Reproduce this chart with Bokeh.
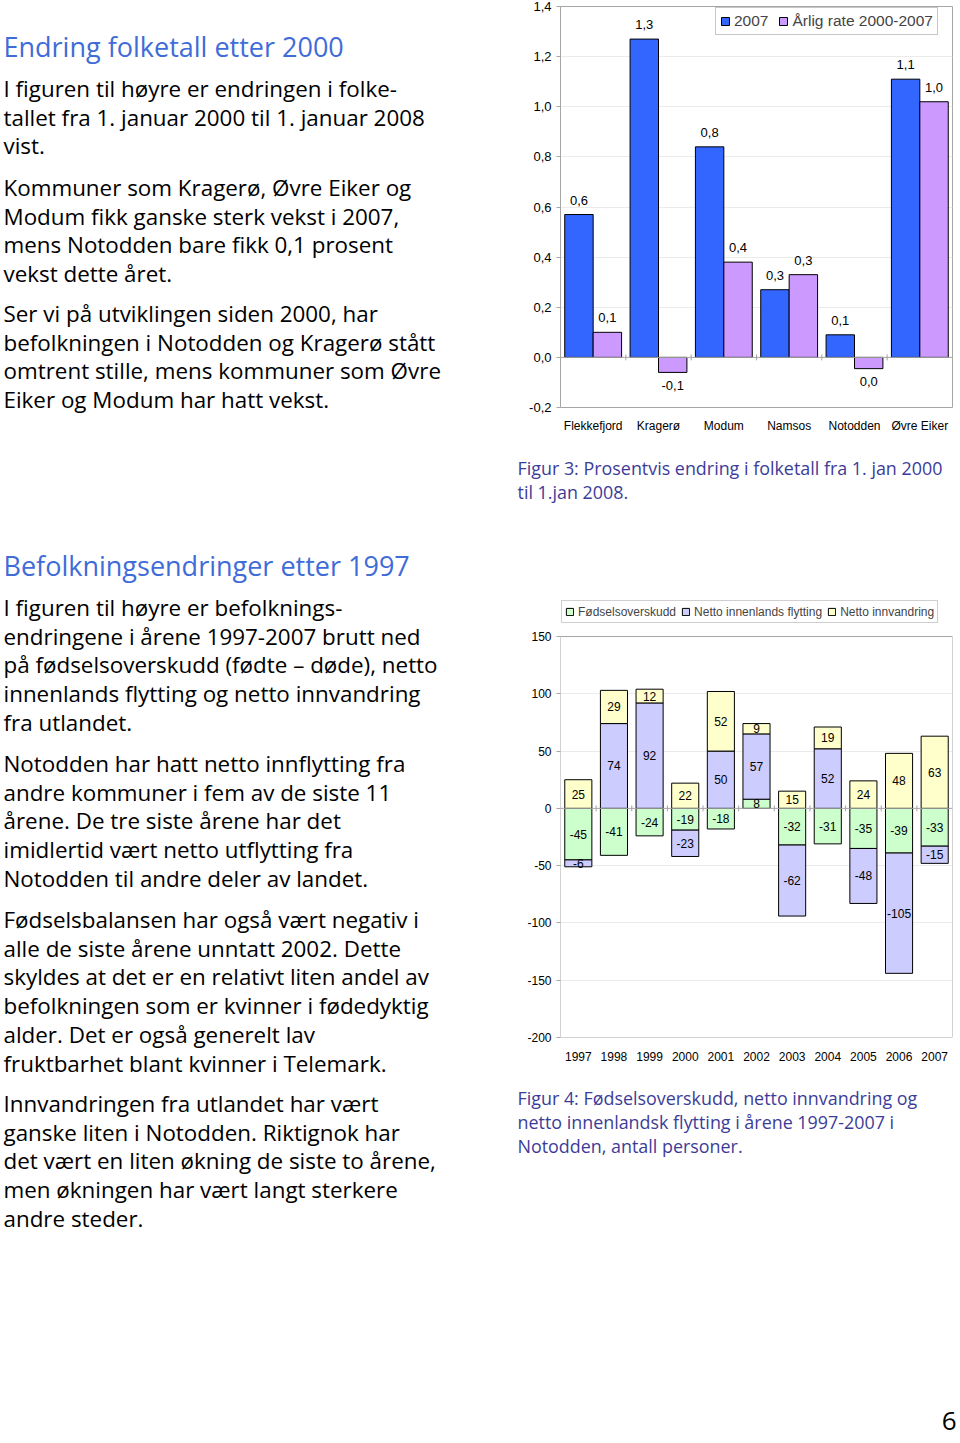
import math
from bokeh.plotting import figure
from bokeh.models import (Range1d, Label, LabelSet, ColumnDataSource, FixedTicker,
                          CustomJSTickFormatter, Legend, LegendItem, Span, Title)
from bokeh.core.properties import value
from bokeh.layouts import row, column
from bokeh.transform import dodge
from bokeh.embed import file_html
from bokeh.resources import INLINE

# ---------------- data: figure 3 ----------------
kommuner = ["Flekkefjord", "Kragerø", "Modum", "Namsos", "Notodden", "Øvre Eiker"]
endring_2007 = [0.57, 1.27, 0.84, 0.27, 0.09, 1.11]
arlig_rate_2000_2007 = [0.10, -0.06, 0.38, 0.33, -0.045, 1.02]
serie_navn_1 = ["2007", "Årlig rate 2000-2007"]
y1_ticks = [-0.2, 0.0, 0.2, 0.4, 0.6, 0.8, 1.0, 1.2, 1.4]

# ---------------- data: figure 4 ----------------
aar = ["1997", "1998", "1999", "2000", "2001", "2002", "2003", "2004", "2005", "2006", "2007"]
fodselsoverskudd = [-45, -41, -24, -19, -18, 8, -32, -31, -35, -39, -33]
innenlands_flytting = [-6, 74, 92, -23, 50, 57, -62, 52, -48, -105, -15]
innvandring = [25, 29, 12, 22, 52, 9, 15, 19, 24, 48, 63]
serie_navn_2 = ["Fødselsoverskudd", "Netto innenlands flytting", "Netto innvandring"]
y2_ticks = [-200, -150, -100, -50, 0, 50, 100, 150]

# ---------------- page text ----------------
overskrift_1 = "Endring folketall etter 2000"
avsnitt_1 = [
    ["I figuren til høyre er endringen i folke-",
     "tallet fra 1. januar 2000 til 1. januar 2008",
     "vist."],
    ["Kommuner som Kragerø, Øvre Eiker og",
     "Modum fikk ganske sterk vekst i 2007,",
     "mens Notodden bare fikk 0,1 prosent",
     "vekst dette året."],
    ["Ser vi på utviklingen siden 2000, har",
     "befolkningen i Notodden og Kragerø stått",
     "omtrent stille, mens kommuner som Øvre",
     "Eiker og Modum har hatt vekst."],
]
overskrift_2 = "Befolkningsendringer etter 1997"
avsnitt_2 = [
    ["I figuren til høyre er befolknings-",
     "endringene i årene 1997-2007 brutt ned",
     "på fødselsoverskudd (fødte – døde), netto",
     "innenlands flytting og netto innvandring",
     "fra utlandet."],
    ["Notodden har hatt netto innflytting fra",
     "andre kommuner i fem av de siste 11",
     "årene.  De tre siste årene har det",
     "imidlertid vært netto utflytting fra",
     "Notodden til andre deler av landet."],
    ["Fødselsbalansen har også vært negativ i",
     "alle de siste årene unntatt 2002.  Dette",
     "skyldes at det er en relativt liten andel av",
     "befolkningen som er kvinner i fødedyktig",
     "alder.  Det er også generelt lav",
     "fruktbarhet blant kvinner i Telemark."],
    ["Innvandringen fra utlandet har vært",
     "ganske liten i Notodden.  Riktignok har",
     "det vært en liten økning de siste to årene,",
     "men økningen har vært langt sterkere",
     "andre steder."],
]
figurtekst_3 = ["Figur 3: Prosentvis endring i folketall fra 1. jan 2000", "til 1.jan 2008."]
figurtekst_4 = ["Figur 4: Fødselsoverskudd, netto innvandring og",
                "netto innenlandsk flytting i årene 1997-2007 i",
                "Notodden, antall personer."]
sidetall = "6"

# ---------------- styles ----------------
BODY_FONT = "Open Sans"
CHART_FONT = "Liberation Sans"
HEAD_COLOR = "#3f6cd8"
CAP_COLOR = "#3c3c98"
GRID = "#a6a6a6"
LINE_H = 28.7
RW = 444          # right column width
BL, BR = 46, 6    # chart borders left/right
TOP_H = 1400      # height of the text/chart band


def canvas(w, h, right=0):
    f = figure(width=w, height=h, x_range=Range1d(0, w - right), y_range=Range1d(h, 0),
               output_backend="svg", toolbar_location=None, min_border=0,
               min_border_right=right, x_axis_type=None, y_axis_type=None)
    f.outline_line_color = None
    return f


def txt(f, x, y, s, size, color="black", align="left", baseline="middle"):
    f.add_layout(Label(x=x, y=y, text=s, text_font=BODY_FONT, text_font_size=size,
                       text_color=color, text_baseline=baseline, text_align=align))


def caption(p, lines, standoff):
    p.add_layout(Title(text="\n".join(lines), align="left", offset=-43, vertical_align="top",
                       standoff=standoff, text_font=BODY_FONT, text_font_size="17.9px",
                       text_font_style="normal", text_color=CAP_COLOR, text_line_height=1.0),
                 "below")


# ---------------- left text column ----------------
left = canvas(514, TOP_H)
txt(left, 3, 46, overskrift_1, "27px", HEAD_COLOR)
for start, lines in zip([88, 187, 313], avsnitt_1):
    for k, s in enumerate(lines):
        txt(left, 3, start + k * LINE_H, s, "22.4px")
txt(left, 3, 565, overskrift_2, "27px", HEAD_COLOR)
for start, lines in zip([607, 763, 919, 1103], avsnitt_2):
    for k, s in enumerate(lines):
        txt(left, 3, start + k * LINE_H, s, "22.4px")


# ---------------- figure 3 ----------------
def fmt1(v):
    s = f"{v:.1f}"
    if s == "-0.0":
        s = "0.0"
    return s.replace(".", ",")


n1 = len(kommuner)
p1 = figure(width=RW, height=589, x_range=Range1d(-0.5, n1 - 0.5), y_range=Range1d(-0.2, 1.4),
            output_backend="svg", toolbar_location=None,
            min_border_left=BL, min_border_right=BR, min_border_top=6, min_border_bottom=182)
p1.outline_line_color = GRID
p1.xgrid.grid_line_color = None
p1.ygrid.grid_line_color = "#ebebeb"

bw1 = 0.435
renderers1 = []
for vals, off, col in [(endring_2007, -bw1 / 2, "#3366ff"), (arlig_rate_2000_2007, bw1 / 2, "#cc99ff")]:
    src = ColumnDataSource(dict(x=list(range(n1)), top=vals,
                                lab=[fmt1(v) for v in vals],
                                yoff=[14.5 if v >= 0 else -13 for v in vals]))
    r = p1.vbar(x=dodge("x", off), top="top", bottom=0, width=bw1, source=src,
                fill_color=col, line_color="black", line_width=1)
    renderers1.append(r)
    p1.add_layout(LabelSet(x=dodge("x", off), y="top", text="lab", y_offset="yoff", source=src,
                           text_font=value(CHART_FONT), text_font_size="13px", text_align="center",
                           text_baseline="middle", text_color="black"))

p1.add_layout(Span(location=0, dimension="width", line_color=GRID, line_width=1))
p1.scatter(x=[i + 0.5 for i in range(n1 - 1)], y=[0] * (n1 - 1), marker="dash",
           angle=math.pi / 2, size=6, line_color=GRID)

p1.yaxis.ticker = FixedTicker(ticks=y1_ticks)
p1.yaxis.formatter = CustomJSTickFormatter(code="return tick.toFixed(1).replace('.', ',');")
p1.xaxis.ticker = FixedTicker(ticks=list(range(n1)))
p1.xaxis.major_label_overrides = {i: k for i, k in enumerate(kommuner)}
for ax in p1.axis:
    ax.major_label_text_font = CHART_FONT
    ax.major_label_text_color = "black"
    ax.minor_tick_line_color = None
p1.yaxis.axis_line_color = GRID
p1.yaxis.major_tick_line_color = GRID
p1.yaxis.major_tick_in = 0
p1.yaxis.major_tick_out = 4
p1.yaxis.major_label_standoff = 5
p1.yaxis.major_label_text_font_size = "13px"
p1.xaxis.axis_line_color = None
p1.xaxis.major_tick_line_color = None
p1.xaxis.major_label_standoff = 5
p1.xaxis.major_label_text_font_size = "12px"

leg1 = Legend(items=[LegendItem(label=serie_navn_1[0], renderers=[renderers1[0]]),
                     LegendItem(label=serie_navn_1[1], renderers=[renderers1[1]])],
              location=(155, 372), orientation="horizontal", glyph_width=10, glyph_height=10,
              label_text_font=CHART_FONT, label_text_font_size="15.5px", label_height=18,
              border_line_color="#909090", padding=4, spacing=10, label_standoff=4, margin=0)
p1.add_layout(leg1)
caption(p1, figurtekst_3, 41)

# ---------------- figure 4 ----------------
n2 = len(aar)
y2_top = y2_ticks[-1] + 47 * (y2_ticks[-1] - y2_ticks[0]) / 401   # room for the legend above the plot box
p2 = figure(width=RW, height=TOP_H - 589, x_range=Range1d(-0.5, n2 - 0.5),
            y_range=Range1d(y2_ticks[0], y2_top),
            output_backend="svg", toolbar_location=None,
            min_border_left=BL, min_border_right=BR, min_border_top=0,
            min_border_bottom=TOP_H - 589 - 448)
p2.outline_line_color = None
p2.xgrid.grid_line_color = None
p2.ygrid.grid_line_color = "#ebebeb"
p2.quad(left=-0.5, right=n2 - 0.5, bottom=y2_ticks[0], top=y2_ticks[-1],
        fill_color=None, line_color=GRID, line_width=1)

pos = [0] * n2
neg = [0] * n2
lx, ly, lt = [], [], []
renderers2 = []
for vals, col in [(fodselsoverskudd, "#ccffcc"), (innenlands_flytting, "#ccccff"), (innvandring, "#ffffcc")]:
    bot, top = [], []
    for i, v in enumerate(vals):
        if v >= 0:
            b = pos[i]; pos[i] = b + v
        else:
            b = neg[i]; neg[i] = b + v
        bot.append(b); top.append(b + v)
        lx.append(i); ly.append(b + v / 2); lt.append(str(v))
    src = ColumnDataSource(dict(x=list(range(n2)), bottom=bot, top=top))
    r = p2.vbar(x="x", bottom="bottom", top="top", width=0.76, source=src,
                fill_color=col, line_color="black", line_width=1)
    renderers2.append(r)

p2.add_layout(Span(location=0, dimension="width", line_color=GRID, line_width=1))
p2.scatter(x=[i + 0.5 for i in range(n2 - 1)], y=[0] * (n2 - 1), marker="dash",
           angle=math.pi / 2, size=6, line_color=GRID)
p2.add_layout(LabelSet(x="x", y="y", text="t", source=ColumnDataSource(dict(x=lx, y=ly, t=lt)),
                       text_font=value(CHART_FONT), text_font_size="12px", text_align="center",
                       text_baseline="middle", text_color="black"))

p2.yaxis.ticker = FixedTicker(ticks=y2_ticks)
p2.yaxis.formatter = CustomJSTickFormatter(code="return tick.toFixed(0);")
p2.xaxis.ticker = FixedTicker(ticks=list(range(n2)))
p2.xaxis.major_label_overrides = {i: a for i, a in enumerate(aar)}
for ax in p2.axis:
    ax.major_label_text_font = CHART_FONT
    ax.major_label_text_color = "black"
    ax.major_label_text_font_size = "12px"
    ax.minor_tick_line_color = None
p2.yaxis.axis_line_color = None
p2.yaxis.major_tick_line_color = GRID
p2.yaxis.major_tick_in = 0
p2.yaxis.major_tick_out = 4
p2.yaxis.major_label_standoff = 5
p2.xaxis.axis_line_color = None
p2.xaxis.major_tick_line_color = None
p2.xaxis.major_label_standoff = 8

leg2 = Legend(items=[LegendItem(label=serie_navn_2[k], renderers=[renderers2[k]]) for k in range(3)],
              location=(1, 414), orientation="horizontal", glyph_width=9, glyph_height=9,
              label_text_font=CHART_FONT, label_text_font_size="12px", label_height=15,
              border_line_color="#a0a0a0", padding=3, spacing=5, label_standoff=4, margin=0)
p2.add_layout(leg2)
caption(p2, figurtekst_4, 45)

bottom = canvas(958, 41)
txt(bottom, 956, 20, sidetall, "26px", "black", align="right")

layout = column(row(left, column(p1, p2)), bottom)
open("out.html", "w").write(file_html(layout, INLINE))
